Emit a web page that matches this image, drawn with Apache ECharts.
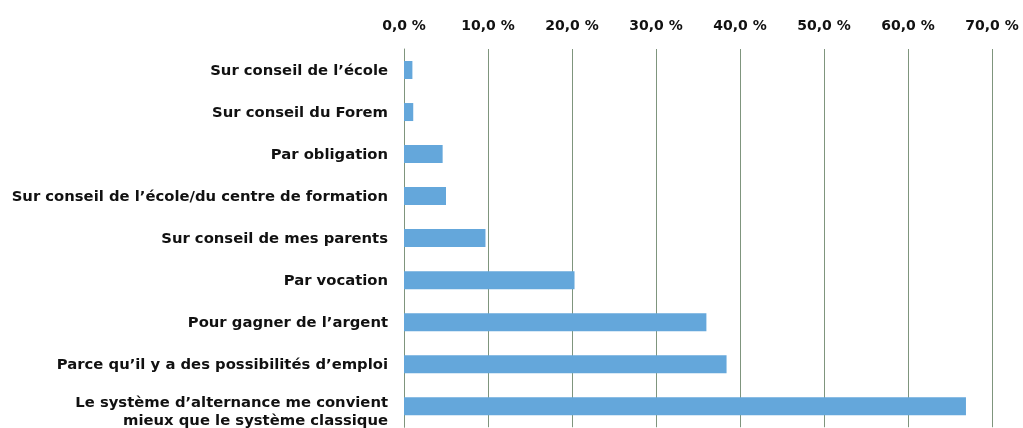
<!DOCTYPE html>
<html>
<head>
<meta charset="utf-8">
<script src="https://cdn.jsdelivr.net/npm/echarts@6/dist/echarts.min.js"></script>
<style>
  html, body { margin: 0; padding: 0; background: #fff; }
  #chart { width: 1023px; height: 428px; }
</style>
</head>
<body>
<div id="chart"></div>
<script>
// categories top to bottom
const categories = [
  'Sur conseil de l’école',
  'Sur conseil du Forem',
  'Par obligation',
  'Sur conseil de l’école/du centre de formation',
  'Sur conseil de mes parents',
  'Par vocation',
  'Pour gagner de l’argent',
  'Parce qu’il y a des possibilités d’emploi',
  'Le système d’alternance me convient\nmieux que le système classique'
];
const values = [1.0, 1.1, 4.6, 5.0, 9.7, 20.3, 36.0, 38.4, 66.9];
const tickMax = 70;
const tickStep = 10;

const ec = echarts.init(document.getElementById('chart'));
const font = '"DejaVu Sans", sans-serif';
const labelSize = 14.8;

ec.setOption({
  animation: false,
  grid: { left: 404, right: 31, top: 49, bottom: -3, containLabel: false },
  xAxis: {
    type: 'value',
    position: 'top',
    min: 0,
    max: tickMax,
    interval: tickStep,
    axisLine: { show: false },
    axisTick: { show: false },
    splitLine: { show: true, lineStyle: { color: '#7f957d', width: 1 } },
    axisLabel: {
      margin: 16,
      color: '#111',
      fontFamily: font,
      fontWeight: 'bold',
      fontSize: 14,
      formatter: v => v.toFixed(1).replace('.', ',') + ' %'
    }
  },
  yAxis: {
    type: 'category',
    inverse: true,
    data: categories,
    axisLine: { show: true, lineStyle: { color: '#7f957d' } },
    axisTick: { show: false },
    axisLabel: {
      margin: 16,
      color: '#111',
      fontFamily: font,
      fontWeight: 'bold',
      fontSize: labelSize,
      lineHeight: 18,
      align: 'right',
      padding: [2, 0, 0, 0],
      // the two-line label sits a little lower in the original
      formatter: (v, i) => i === categories.length - 1
        ? v.split('\n').map(s => '{low|' + s + '}').join('\n')
        : v,
      rich: {
        low: {
          fontFamily: font,
          fontWeight: 'bold',
          fontSize: labelSize,
          color: '#111',
          lineHeight: 18,
          padding: [9, 0, 0, 0]
        }
      }
    }
  },
  series: [{
    type: 'bar',
    data: values,
    barWidth: 18,
    itemStyle: { color: '#64a7db' }
  }]
});
</script>
</body>
</html>
